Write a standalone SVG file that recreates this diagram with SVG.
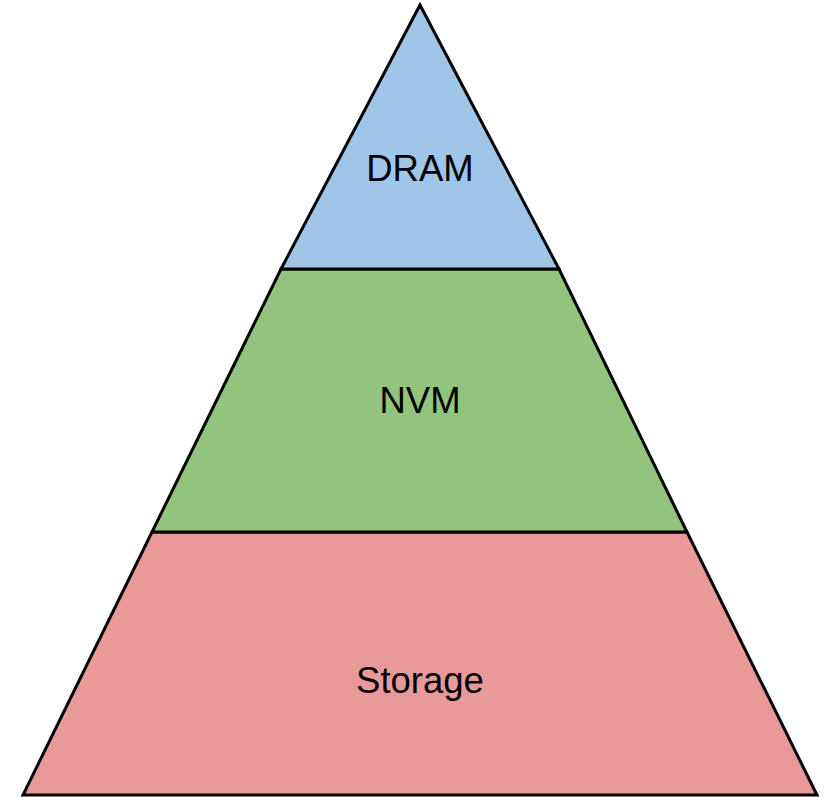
<svg xmlns="http://www.w3.org/2000/svg" width="828" height="797" viewBox="0 0 828 797">
<style>
.layer{stroke:#000;stroke-width:3;stroke-linejoin:miter}
.lbl{font-family:"Liberation Sans",Arial,sans-serif;font-size:36.5px;fill:#000;text-anchor:middle}
</style>
<rect width="828" height="797" fill="#fff"/>
<g id="storage">
<polygon class="layer" fill="#ea9999" points="152,532 687,532 817,795 23,795"/>
<text class="lbl" x="420" y="693">Storage</text>
</g>
<g id="nvm">
<polygon class="layer" fill="#93c47d" points="281,269 559,269 687,532 152,532"/>
<text class="lbl" x="420" y="413">NVM</text>
</g>
<g id="dram">
<polygon class="layer" fill="#9fc5e8" points="420,5 559,269 281,269"/>
<text class="lbl" x="420" y="181">DRAM</text>
</g>
</svg>
